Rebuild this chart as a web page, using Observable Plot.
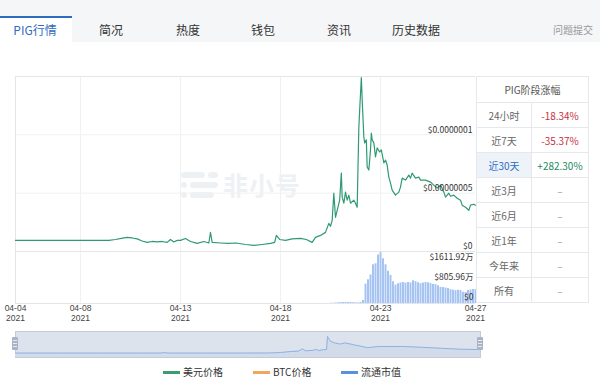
<!DOCTYPE html>
<html><head><meta charset="utf-8">
<script src="https://cdn.jsdelivr.net/npm/d3@7"></script>
<script src="https://cdn.jsdelivr.net/npm/@observablehq/plot@0.6"></script>
<style>
body{margin:0;width:600px;height:382px;position:relative;overflow:hidden;background:#fff;font-family:"Noto Sans CJK SC","Noto Sans",sans-serif;}
.abs{position:absolute;}
#tabs{left:0;top:0;width:600px;height:42px;background:#f5f6f8;}
.tab{position:absolute;top:22px;font-size:12px;line-height:16px;color:#333;transform:translateX(-50%);white-space:nowrap;}
#active{left:0;top:16px;width:72px;height:26px;background:#fff;border-top:2px solid #2d6cc0;box-sizing:border-box;}
table{border-collapse:collapse;font-size:10px;color:#666;}
td{border:1px solid #e6e8eb;height:24px;padding:0;text-align:center;}
.wm{background:#eef1f4;border-radius:3px;position:absolute;height:6px;}
.leg{position:absolute;top:365px;font-size:10px;color:#333;line-height:14px;white-space:nowrap;}
.leg i{display:inline-block;width:17px;height:3px;vertical-align:middle;margin-right:3px;position:relative;top:-1px;}
.handle{position:absolute;top:337px;width:6px;height:13px;background:#a9b5c6;border-radius:1px;}
.handle b{position:absolute;left:1px;width:4px;height:1px;background:#e8ecf2;}
</style></head><body>
<div id="tabs" class="abs"></div>
<div id="active" class="abs"></div>
<div class="tab" style="left:35px;color:#2d6cc0">PIG行情</div>
<div class="tab" style="left:111px">简况</div>
<div class="tab" style="left:188px">热度</div>
<div class="tab" style="left:263px">钱包</div>
<div class="tab" style="left:339px">资讯</div>
<div class="tab" style="left:416px">历史数据</div>
<div class="tab" style="left:573px;font-size:10px;color:#999">问题提交</div>

<div class="wm" style="left:181px;top:172px;width:24px"></div>
<div class="wm" style="left:208px;top:172px;width:10px"></div>
<div class="wm" style="left:181px;top:182px;width:6px"></div>
<div class="wm" style="left:190px;top:182px;width:28px"></div>
<div class="wm" style="left:181px;top:192px;width:6px"></div>
<div class="wm" style="left:190px;top:192px;width:24px"></div>
<div class="abs" style="left:223px;top:168px;font-size:25px;line-height:32px;font-weight:bold;color:#eef1f4;letter-spacing:1px">非小号</div>

<div id="p1" class="abs" style="left:0;top:66px"></div>
<div id="p2" class="abs" style="left:0;top:251px"></div>
<div id="p3" class="abs" style="left:0;top:331px"></div>
<div class="handle" style="left:12px"><b style="top:3px"></b><b style="top:6px"></b><b style="top:9px"></b></div>
<div class="handle" style="left:477px"><b style="top:3px"></b><b style="top:6px"></b><b style="top:9px"></b></div>

<div class="abs" style="left:476px;top:76px" id="tbl"></div>

<div class="leg" style="left:163px"><i style="background:#3c9c74"></i>美元价格</div>
<div class="leg" style="left:253px"><i style="background:#f2a65a"></i>BTC价格</div>
<div class="leg" style="left:341px"><i style="background:#5b8fe0"></i>流通市值</div>

<script>
// ---- data ----
const xStart = "2021-04-04 18:00";
const xEnd = "2021-04-27 18:00";
const gridTimes = ["2021-04-08 00:00","2021-04-13 00:00","2021-04-18 00:00","2021-04-23 00:00"];
const tickTimes = ["2021-04-04 18:00","2021-04-08 00:00","2021-04-13 00:00","2021-04-18 00:00","2021-04-23 00:00","2021-04-27 18:00"];
const tickDay = ["04-04","04-08","04-13","04-18","04-23","04-27"];
const tickYear = ["2021","2021","2021","2021","2021","2021"];

// 美元价格, in units of 1e-9 USD
const priceTimes = [
"2021-04-04 18:00","2021-04-09 10:00","2021-04-09 18:00","2021-04-10 01:00","2021-04-10 08:00","2021-04-10 14:00",
"2021-04-10 20:00","2021-04-11 02:00","2021-04-11 08:00","2021-04-11 14:00","2021-04-11 20:00","2021-04-12 02:00",
"2021-04-12 08:00","2021-04-12 12:00","2021-04-12 16:00","2021-04-12 20:00","2021-04-13 00:00","2021-04-13 06:00",
"2021-04-13 12:00","2021-04-13 20:00","2021-04-14 04:00","2021-04-14 10:00","2021-04-14 12:00","2021-04-14 14:00",
"2021-04-15 00:00","2021-04-15 10:00","2021-04-15 19:00","2021-04-16 06:00","2021-04-16 16:00","2021-04-17 02:00",
"2021-04-17 12:00","2021-04-17 17:00","2021-04-17 19:00","2021-04-17 23:00","2021-04-18 06:00","2021-04-18 14:00",
"2021-04-19 00:00","2021-04-19 07:00","2021-04-19 14:00","2021-04-19 18:00","2021-04-20 00:00","2021-04-20 06:00",
"2021-04-20 10:00","2021-04-20 12:00","2021-04-20 14:00","2021-04-20 16:00","2021-04-20 18:00","2021-04-20 20:00",
"2021-04-20 23:00","2021-04-21 01:00","2021-04-21 02:00","2021-04-21 04:00","2021-04-21 06:00","2021-04-21 08:00",
"2021-04-21 10:00","2021-04-21 12:00","2021-04-21 16:00","2021-04-21 18:00","2021-04-21 20:00","2021-04-21 22:00",
"2021-04-21 23:00","2021-04-22 01:00","2021-04-22 02:00","2021-04-22 04:00","2021-04-22 05:00","2021-04-22 07:00",
"2021-04-22 08:00","2021-04-22 10:00","2021-04-22 12:00","2021-04-22 13:00","2021-04-22 14:00","2021-04-22 16:00",
"2021-04-22 18:00","2021-04-22 20:00","2021-04-22 23:00","2021-04-23 01:00","2021-04-23 04:00","2021-04-23 06:00",
"2021-04-23 08:00","2021-04-23 10:00","2021-04-23 12:00","2021-04-23 14:00","2021-04-23 18:00","2021-04-23 22:00",
"2021-04-24 00:00","2021-04-24 02:00","2021-04-24 06:00","2021-04-24 10:00","2021-04-24 12:00","2021-04-24 14:00",
"2021-04-24 18:00","2021-04-24 22:00","2021-04-25 00:00","2021-04-25 06:00","2021-04-25 12:00","2021-04-25 16:00",
"2021-04-25 20:00","2021-04-26 00:00","2021-04-26 04:00","2021-04-26 06:00","2021-04-26 10:00","2021-04-26 12:00",
"2021-04-26 16:00","2021-04-26 20:00","2021-04-27 00:00","2021-04-27 02:00","2021-04-27 06:00","2021-04-27 10:00",
"2021-04-27 12:00","2021-04-27 16:00","2021-04-27 18:00"];
const priceE9 = [
9.5,9.5,10.3,11.2,12.1,11.6,
10.8,9.0,7.8,8.6,8.2,8.6,
7.8,10.3,8.2,9.5,9.5,11.2,
8.6,6.9,8.6,7.3,16.4,7.8,
7.3,6.9,7.3,6.0,5.2,6.0,
6.9,7.8,13.8,10.3,9.5,10.8,
11.2,10.3,7.8,12.1,13.8,16.4,
24.1,21.6,26.7,50.0,29.3,35.3,
44.0,67.2,46.6,41.4,50.9,44.0,
48.3,41.4,44.0,41.4,37.9,106.0,
121.0,149.1,130.2,98.3,93.1,95.7,
72.4,69.8,87.1,101.4,95.7,93.1,
81.0,88.8,85.3,87.1,75.9,78.4,
74.1,63.8,58.6,52.6,48.3,50.9,
55.2,62.9,61.2,65.5,62.9,67.2,
62.9,63.8,61.2,61.2,59.5,56.9,
54.3,56.9,50.9,46.6,50.0,47.4,
48.3,45.7,44.0,39.7,37.9,35.3,
39.7,40.5,39.7];
const priceTickValues = [0, 50, 100];
const priceTickLabels = ["$0", "$0.00000005", "$0.0000001"];

// 流通市值, in 万 USD, every 3 hours from volStart
const volStart = "2021-04-20 12:00";
const volStepHours = 3;
const volValues = [
10,15,20,30,40,40,45,40,40,35,30,25,
40,120,780,960,1150,1560,1600,1950,2050,1800,1560,1300,
1130,880,740,800,830,850,820,850,830,920,880,840,
800,830,850,840,800,770,760,720,650,640,620,600,
560,530,520,530,520,450,440,520,540,560,560];
const volTickValues = [0, 805.96, 1611.92];
const volTickLabels = ["$0", "$805.96万", "$1611.92万"];

// dataZoom shadow (position % of slider, price in 1e-9 USD)
const sliderPos = [0,9.7,18.3,26.9,31.2,32.0,32.9,39.8,48.4,54.2,57.0,59.1,60.9,61.7,62.4,63.9,64.7,65.2,66.2,66.9,67.1,67.7,68.6,69.9,70.8,72.7,75.7,78.1,83.2,87.3,91.4,95.5,100];
const sliderVals = [9.5,9.5,9.5,9.5,9.5,13,9.5,9.5,9.5,10,14,22,26,45,28,32,40,30,38,40,149,110,95,85,95,80,55,65,65,58,50,42,39];

// table
const tableHeader = "PIG阶段涨幅";
const periodLabels = ["24小时","近7天","近30天","近3月","近6月","近1年","今年来","所有"];
const periodValues = ["-18.34%","-35.37%","+282.30%","–","–","–","–","–"];

// ---- build ----
const parse = d3.utcParse("%Y-%m-%d %H:%M");
const xDomain = [parse(xStart), parse(xEnd)];
const gridDates = gridTimes.map(parse);
const tickDates = tickTimes.map(parse);
const price = priceTimes.map((s, i) => ({t: parse(s), v: priceE9[i]}));
const v0 = parse(volStart);
const vol = volValues.map((v, i) => ({t: d3.utcHour.offset(v0, i * volStepHours), v}));
const slider = sliderPos.map((p, i) => ({p, v: sliderVals[i]}));
const font = '"Noto Sans CJK SC","Noto Sans",sans-serif';
const numFont = '"Liberation Sans","Noto Sans",sans-serif';
const baseStyle = {background: "transparent", overflow: "visible", fontFamily: font};
const lineC = "#e3e5e8", gridC = "#f0f1f3";

const p1 = Plot.plot({
  width: 480, height: 186, marginLeft: 15, marginRight: 5, marginTop: 10, marginBottom: 1,
  x: {type: "utc", domain: xDomain, axis: null},
  y: {domain: [0, 150], axis: null},
  style: baseStyle,
  marks: [
    Plot.ruleX(gridDates, {stroke: gridC}),
    Plot.ruleY([50, 100], {stroke: gridC}),
    Plot.ruleY([0, 150], {stroke: lineC}),
    Plot.ruleX([xDomain[0]], {stroke: lineC}),
    Plot.line(price, {x: "t", y: "v", stroke: "#2f9a72", strokeWidth: 1.2}),
    Plot.text(priceTickValues, {y: d => d, text: (d, i) => priceTickLabels[i], frameAnchor: "right", textAnchor: "end", dx: -3, dy: -5, fontSize: 8.5, fill: "#333"})
  ]
});
document.getElementById("p1").appendChild(p1);

const p2 = Plot.plot({
  width: 480, height: 77, marginLeft: 15, marginRight: 5, marginTop: 1, marginBottom: 25,
  x: {type: "utc", domain: xDomain, axis: null},
  y: {domain: [0, 2055], axis: null},
  style: baseStyle,
  marks: [
    Plot.ruleX(gridDates, {stroke: gridC}),
    Plot.ruleX([xDomain[0]], {stroke: lineC}),
    Plot.ruleY([0], {stroke: lineC}),
    Plot.ruleX(vol, {x: "t", y1: 0, y2: "v", stroke: "#a6c4f2", strokeWidth: 2}),
    Plot.text(volTickValues, {y: d => d, text: (d, i) => volTickLabels[i], frameAnchor: "right", textAnchor: "end", dx: -2, dy: -6, fontSize: 8.5, fill: "#333"}),
    Plot.text(tickDates, {x: d => d, text: (d, i) => tickDay[i], frameAnchor: "bottom", dy: 7, fontSize: 8.5, fontFamily: numFont, fill: "#444"}),
    Plot.text(tickDates, {x: d => d, text: (d, i) => tickYear[i], frameAnchor: "bottom", dy: 17, fontSize: 8.5, fontFamily: numFont, fill: "#444"})
  ]
});
document.getElementById("p2").appendChild(p2);

const p3 = Plot.plot({
  width: 480, height: 26, marginLeft: 15, marginRight: 0, marginTop: 0, marginBottom: 0,
  x: {domain: [0, 100], axis: null},
  y: {domain: [-28, 191], axis: null},
  style: baseStyle,
  marks: [
    Plot.frame({fill: "#dde3ed", stroke: "#c4ccd8"}),
    Plot.areaY(slider, {x: "p", y1: -28, y2: "v", fill: "#d2dbea"}),
    Plot.line(slider, {x: "p", y: "v", stroke: "#8fb1e4", strokeWidth: 1})
  ]
});
document.getElementById("p3").appendChild(p3);

// table
let html = '<table style="width:113px"><tr><td colspan="2" style="height:25px;color:#555">' + tableHeader + '</td></tr>';
periodLabels.forEach((l, i) => {
  const val = periodValues[i];
  const vc = val.startsWith("-") && val.length > 1 ? "#c6323f" : val.startsWith("+") ? "#1c8a5e" : "#999";
  const hl = i === 2 ? 'background:#eef3fa;color:#2d6cc0;' : '';
  html += '<tr><td style="width:54px;' + hl + '">' + l + '</td><td style="color:' + vc + '">' + val + '</td></tr>';
});
html += '</table>';
document.getElementById("tbl").innerHTML = html;
</script>
</body></html>
